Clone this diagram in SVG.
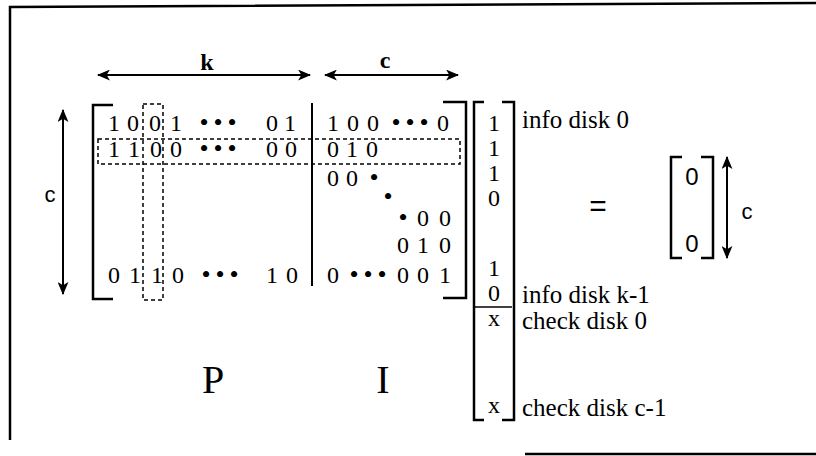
<svg xmlns="http://www.w3.org/2000/svg" width="816" height="456" viewBox="0 0 816 456">
<defs>
<style>
.t{font-family:"Liberation Serif","Times New Roman",serif;font-size:24px;fill:#000}
.lb{font-family:"Liberation Serif","Times New Roman",serif;font-size:25px;fill:#000}
.big{font-family:"Liberation Serif","Times New Roman",serif;font-size:40px;fill:#000}
.s{font-family:"Liberation Sans",Arial,sans-serif;font-size:24px;fill:#000}
.dot{font-size:26px}
.br{stroke:#000;stroke-width:2.5;fill:none}
.ds{stroke:#000;stroke-width:1.5;stroke-dasharray:4 3;fill:none}
.ar{stroke:#000;stroke-width:2;fill:none;marker-start:url(#ah);marker-end:url(#ah)}
</style>
<marker id="ah" viewBox="0 0 12 10" refX="11" refY="5" markerWidth="13" markerHeight="11" markerUnits="userSpaceOnUse" orient="auto-start-reverse">
<path d="M0,0 L12,5 L0,10 L3,5 z" fill="#000"/>
</marker>
</defs>
<rect width="816" height="456" fill="#fff"/>
<g id="frame">
<path d="M10,440 V7 L816,3" class="br"/>
<path d="M525,454 H816" class="br"/>
</g>
<g id="matrix-P">
<path d="M113,105 H93 V299 H113" class="br"/>
<text class="t" text-anchor="middle" x="114 133 155 176 204 218 232 272 290" y="131">1001<tspan class="dot">•••</tspan>01</text>
<text class="t" text-anchor="middle" x="114 134 156 176 204 218 232 272 291" y="157">1100<tspan class="dot">•••</tspan>00</text>
<text class="t" text-anchor="middle" x="114 135 157 178 206 220 234 272 292" y="283">0110<tspan class="dot">•••</tspan>10</text>
<text class="big" text-anchor="middle" x="213" y="393">P</text>
</g>
<g id="separator">
<path d="M312,103 V286" class="br" style="stroke-width:2"/>
</g>
<g id="matrix-I">
<text class="t" text-anchor="middle" x="333 353 373 396 410 424 443" y="131">100<tspan class="dot">•••</tspan>0</text>
<text class="t" text-anchor="middle" x="333 352 372" y="157">010</text>
<text class="t" text-anchor="middle" x="333 352 374" y="186">00<tspan class="dot">•</tspan></text>
<text class="t dot" text-anchor="middle" x="388" y="205">•</text>
<text class="t" text-anchor="middle" x="403 423 445" y="226"><tspan class="dot">•</tspan>00</text>
<text class="t" text-anchor="middle" x="403 423 445" y="253">010</text>
<text class="t" text-anchor="middle" x="333 354 368 382 403 423 445" y="283">0<tspan class="dot">•••</tspan>001</text>
<path d="M443,102 H466 V298 H443" class="br"/>
<text class="big" text-anchor="middle" x="383" y="393">I</text>
</g>
<g id="highlights">
<rect x="143" y="104" width="20" height="196" class="ds"/>
<rect x="98" y="139" width="362" height="25" class="ds"/>
</g>
<g id="vector">
<path d="M484,102 H474 V420 H484" class="br"/>
<path d="M502,102 H514 V420 H502" class="br"/>
<text class="t" text-anchor="middle" x="494" y="131">1</text>
<text class="t" text-anchor="middle" x="494" y="156">1</text>
<text class="t" text-anchor="middle" x="494" y="181">1</text>
<text class="t" text-anchor="middle" x="494" y="206">0</text>
<text class="t" text-anchor="middle" x="494" y="276">1</text>
<text class="t" text-anchor="middle" x="494" y="301">0</text>
<path d="M474,307 H512" class="br" style="stroke-width:1.5"/>
<text class="t" text-anchor="middle" x="494" y="326">x</text>
<text class="t" text-anchor="middle" x="494" y="413">x</text>
</g>
<g id="labels">
<text class="lb" x="522" y="128">info disk 0</text>
<text class="lb" x="522" y="303">info disk k-1</text>
<text class="lb" x="522" y="329">check disk 0</text>
<text class="lb" x="522" y="416">check disk c-1</text>
</g>
<g id="equals">
<text class="s" text-anchor="middle" x="598" y="216" style="font-size:30px">=</text>
</g>
<g id="zero-vector">
<path d="M682,157 H671 V258 H682" class="br"/>
<path d="M701,157 H713 V258 H701" class="br"/>
<text class="s" text-anchor="middle" x="692" y="185">0</text>
<text class="s" text-anchor="middle" x="692" y="252">0</text>
</g>
<g id="connectors">
<line x1="98" y1="75" x2="310" y2="75" class="ar"/>
<line x1="325" y1="75" x2="458" y2="75" class="ar"/>
<line x1="63" y1="110" x2="63" y2="294" class="ar"/>
<line x1="727" y1="157" x2="727" y2="258" class="ar"/>
</g>
<g id="dim-labels">
<text class="t" text-anchor="middle" x="207" y="70" style="font-weight:bold">k</text>
<text class="t" text-anchor="middle" x="385" y="68" style="font-weight:bold">c</text>
<text class="s" text-anchor="middle" x="50" y="202" style="font-size:22px">c</text>
<text class="s" text-anchor="middle" x="747" y="219" style="font-size:22px">c</text>
</g>
</svg>
